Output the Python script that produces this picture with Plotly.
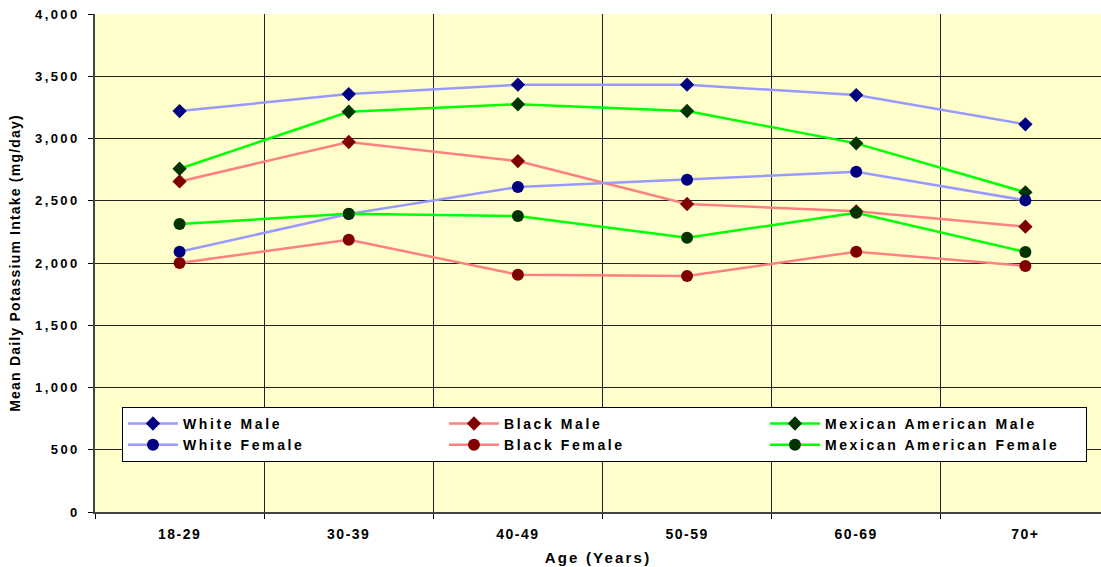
import plotly.graph_objects as go

# Age groups on the x axis
age_groups = ["18-29", "30-39", "40-49", "50-59", "60-69", "70+"]

# Mean daily potassium intake (mg/day) by group
white_male = [3220, 3357, 3432, 3432, 3349, 3114]
black_male = [2655, 2972, 2819, 2474, 2415, 2292]
mexican_american_male = [2757, 3215, 3275, 3221, 2961, 2568]
white_female = [2091, 2393, 2610, 2669, 2733, 2503]
black_female = [2000, 2187, 1906, 1896, 2091, 1976]
mexican_american_female = [2313, 2395, 2377, 2203, 2404, 2088]

y_ticks = [0, 500, 1000, 1500, 2000, 2500, 3000, 3500, 4000]

FONT = "Liberation Sans"


def spaced(text, px):
    return f'<b><span style="letter-spacing:{px}px">{text}</span></b>'


series = [
    ("White Male", white_male, "#9999FF", "#000080", "diamond", 11),
    ("Black Male", black_male, "#FF8080", "#800000", "diamond", 11),
    ("Mexican American Male", mexican_american_male, "#00FF00", "#003300", "diamond", 11),
    ("White Female", white_female, "#9999FF", "#000080", "circle", 12),
    ("Black Female", black_female, "#FF8080", "#800000", "circle", 12),
    ("Mexican American Female", mexican_american_female, "#00FF00", "#003300", "circle", 12),
]

fig = go.Figure()
for name, vals, line_color, marker_color, symbol, size in series:
    fig.add_trace(go.Scatter(
        x=age_groups, y=vals, mode="lines+markers",
        name=spaced(name, 2.6),
        line=dict(color=line_color, width=2.5),
        marker=dict(color=marker_color, symbol=symbol, size=size, line=dict(width=0)),
    ))

fig.update_layout(
    width=1101, height=567,
    margin=dict(l=95, r=0, t=14, b=55),
    paper_bgcolor="white",
    plot_bgcolor="#FFFFCC",
    font=dict(family=FONT, color="black"),
    showlegend=True,
    legend=dict(
        orientation="h",
        x=0.0268, y=0.211, xanchor="left", yanchor="top",
        bgcolor="white", bordercolor="black", borderwidth=1,
        font=dict(family=FONT, size=14, color="black"),
        itemwidth=50,
        entrywidth=256, entrywidthmode="pixels",
    ),
)

fig.update_xaxes(
    type="category",
    range=[-0.5, 5.447],
    tickmode="array", tickvals=age_groups,
    ticktext=[spaced(a, 1.5) for a in age_groups],
    tickson="boundaries",
    ticks="outside", ticklen=5, tickcolor="black",
    ticklabelstandoff=8,
    tickfont=dict(family=FONT, size=14),
    showgrid=True, gridcolor="#222222", gridwidth=1,
    showline=True, linecolor="#444444", linewidth=1.5,
    zeroline=False,
    title=dict(text=spaced("Age (Years)", 2.2),
               font=dict(family=FONT, size=15), standoff=12),
)

fig.update_yaxes(
    range=[0, 4000],
    tickmode="array", tickvals=y_ticks,
    ticktext=[spaced(f"{v:,}", 2.4) for v in y_ticks],
    ticks="outside", ticklen=5, tickcolor="black",
    ticklabelstandoff=6,
    tickfont=dict(family=FONT, size=13),
    showgrid=True, gridcolor="#222222", gridwidth=1,
    showline=True, linecolor="#444444", linewidth=1.5,
    zeroline=False,
    title=dict(text=spaced("Mean Daily Potassium Intake (mg/day)", 1.2),
               font=dict(family=FONT, size=14), standoff=11),
)

fig.write_html("out.html")
